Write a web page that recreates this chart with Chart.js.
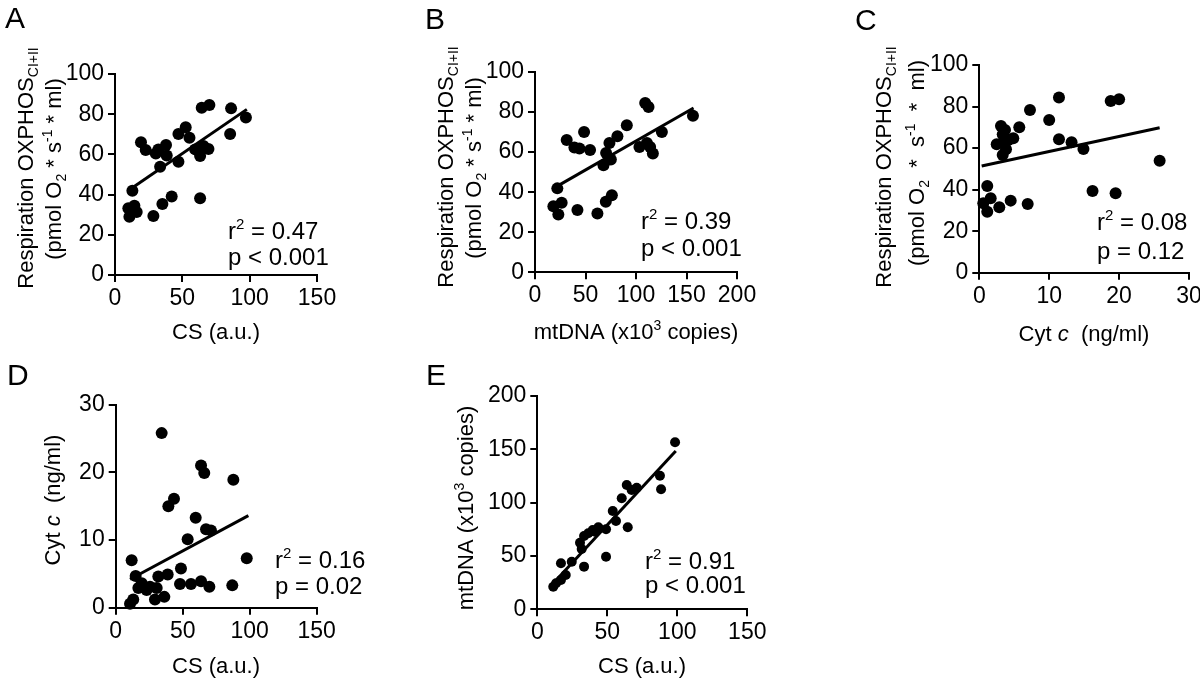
<!DOCTYPE html>
<html><head><meta charset="utf-8">
<script src="https://cdn.jsdelivr.net/npm/chart.js@4/dist/chart.umd.min.js"></script>
<style>
html,body{margin:0;padding:0;background:#fff;width:1200px;height:683px;overflow:hidden;}
canvas{position:absolute;}
</style></head><body>
<canvas id="cA"></canvas><canvas id="cB"></canvas><canvas id="cC"></canvas><canvas id="cD"></canvas><canvas id="cE"></canvas>
<script>
// ---------- DATA ----------
// Panel A: CS (a.u.) vs Respiration OXPHOS CI+II
const aX = [12.9, 9.9, 14.4, 16.1, 10.7, 28.5, 35.2, 42.1, 63.2, 19.3, 22.8, 30.3, 32.2, 37.9, 38.4, 33.5, 47.1, 47.1, 52.5, 55.3, 59.5, 63.2, 65.7, 69.4, 64.4, 70.1, 86.2, 85.5, 97.2];
const aY = [41.9, 33.2, 34.5, 31.3, 29.0, 29.4, 35.3, 39.0, 38.2, 66.0, 62.2, 60.5, 62.5, 64.7, 59.4, 53.9, 56.4, 70.1, 73.5, 68.3, 62.5, 59.2, 64.2, 62.7, 83.2, 84.6, 82.9, 70.1, 78.3];
const aFitX = [12.9, 97.9];
const aFitY = [43.4, 82.4];
const aXTicks = [0, 50, 100, 150];
const aYTicks = [0, 20, 40, 60, 80, 100];

// Panel B: mtDNA vs Respiration
const bX = [22.1, 18.2, 26.4, 23.1, 42.0, 61.8, 70.1, 76.1, 31.4, 39.0, 44.0, 48.6, 54.5, 67.8, 70.4, 75.1, 73.7, 81.6, 90.9, 103.4, 110.8, 114.0, 116.7, 109.1, 112.4, 125.6, 156.4];
const bY = [41.9, 33.0, 34.7, 28.9, 31.1, 29.4, 35.2, 38.5, 66.0, 62.3, 61.8, 70.1, 61.0, 53.5, 59.6, 56.3, 64.6, 67.9, 73.4, 62.6, 64.6, 62.6, 59.3, 84.5, 82.5, 70.1, 78.1];
const bFitX = [22.1, 157];
const bFitY = [43, 82];
const bXTicks = [0, 50, 100, 150, 200];
const bYTicks = [0, 20, 40, 60, 80, 100];

// Panel C: Cyt c vs Respiration
const cX = [0.57, 1.14, 1.63, 1.14, 2.86, 4.49, 6.92, 3.1, 2.49, 3.35, 3.53, 3.82, 3.35, 4.15, 4.86, 5.72, 7.25, 10.0, 11.4, 11.4, 13.2, 14.9, 16.2, 19.5, 18.8, 20.0, 25.8, 3.68];
const cY = [33.4, 41.7, 35.8, 29.4, 31.5, 34.7, 33.1, 70.6, 61.8, 66.6, 63.4, 59.4, 56.7, 63.9, 64.7, 70.0, 78.3, 73.5, 84.4, 64.2, 62.8, 59.6, 39.3, 38.2, 82.7, 83.5, 53.9, 68.7];
const cFitX = [0.34, 25.8];
const cFitY = [51.4, 69.8];
const cXTicks = [0, 10, 20, 30];
const cYTicks = [0, 20, 40, 60, 80, 100];

// Panel D: CS vs Cyt c
const dX = [34.3, 63.7, 66.1, 87.8, 43.5, 39.3, 59.7, 67.4, 71.1, 53.7, 97.8, 11.9, 14.9, 19.4, 31.8, 38.8, 48.7, 48.0, 56.2, 63.7, 69.9, 87.0, 16.9, 23.1, 30.6, 29.3, 36.3, 13.1, 10.7, 25.6];
const dY = [25.8, 21.0, 19.9, 18.9, 16.1, 15.0, 13.3, 11.6, 11.4, 10.1, 7.3, 7.0, 4.7, 3.6, 4.6, 4.9, 5.8, 3.5, 3.5, 3.9, 3.1, 3.3, 2.9, 2.6, 2.9, 1.2, 1.6, 1.2, 0.6, 3.1];
const dFitX = [10.7, 99];
const dFitY = [4.2, 13.6];
const dXTicks = [0, 50, 100, 150];
const dYTicks = [0, 10, 20, 30];

// Panel E: CS vs mtDNA
const eX = [98.4, 87.6, 88.4, 63.9, 71.0, 67.4, 60.3, 53.9, 56.2, 64.6, 49.1, 43.6, 39.6, 36.4, 33.4, 30.5, 31.7, 33.4, 49.1, 24.6, 16.9, 20.3, 16.9, 13.4, 11.4, 41.2];
const eY = [156.6, 125.3, 112.5, 116.5, 114.0, 111.9, 104.1, 92.2, 82.8, 76.9, 75.0, 76.9, 74.4, 71.3, 68.7, 62.4, 56.5, 40.0, 49.3, 44.6, 43.1, 32.2, 27.5, 24.4, 21.2, 72.8];
const eFitX = [11.4, 98.9];
const eFitY = [24.4, 148.4];
const eXTicks = [0, 50, 100, 150];
const eYTicks = [0, 50, 100, 150, 200];

const statsA = ['0.47', '< 0.001'];
const statsB = ['0.39', '< 0.001'];
const statsC = ['0.08', '= 0.12'];
const statsD = ['0.16', '= 0.02'];
const statsE = ['0.91', '< 0.001'];

// ---------- RENDERING ----------
const FONT = '"Liberation Sans", Arial, Helvetica, sans-serif';
const INK = '#000';
const TICK = 23, TITLE = 22, NOTE = 24, LETTER = 30;

function segFont(s, size) {
  const sz = (s.sub || s.sup) ? Math.round(size * 0.64) : size;
  return (s.italic ? 'italic ' : '') + sz + 'px ' + FONT;
}
function drawRich(ctx, segs, x, y, size, rot, align) {
  ctx.save();
  ctx.translate(x, y);
  if (rot) ctx.rotate(rot);
  ctx.fillStyle = INK; ctx.textBaseline = 'alphabetic'; ctx.textAlign = 'left';
  let w = 0;
  const ws = segs.map(s => { ctx.font = segFont(s, size); const m = ctx.measureText(s.t).width; w += m; return m; });
  let cx = align === 'left' ? 0 : -w / 2;
  const base = size * 0.36;
  segs.forEach((s, i) => {
    ctx.font = segFont(s, size);
    const dy = s.sub ? size * 0.22 : (s.sup ? -size * 0.42 : 0);
    ctx.fillText(s.t, cx, base + dy);
    cx += ws[i];
  });
  ctx.restore();
}

const respL1 = [{t: 'Respiration OXPHOS'}, {t: 'CI+II', sub: true}];
const respL2 = [{t: '(pmol O'}, {t: '2', sub: true}, {t: ' * s'}, {t: '-1', sup: true}, {t: ' * ml)'}];
const respL2c = [{t: '(pmol O'}, {t: '2', sub: true}, {t: '  *  s'}, {t: '-1', sup: true}, {t: '  *  ml)'}];
const csT = [{t: 'CS (a.u.)'}];
const mtT = [{t: 'mtDNA (x10'}, {t: '3', sup: true}, {t: ' copies)'}];
const cytT = [{t: 'Cyt '}, {t: 'c', italic: true}, {t: '  (ng/ml)'}];

function pts(xs, ys) { return xs.map((x, i) => ({x: x, y: ys[i]})); }

function makePanel(id, P) {
  const cv = document.getElementById(id);
  cv.width = P.cw; cv.height = P.ch;
  cv.style.left = P.cl + 'px'; cv.style.top = P.ct + 'px';
  cv.style.width = P.cw + 'px'; cv.style.height = P.ch + 'px';
  const YW = 60, XH = 40;
  const pad = {
    left: (P.al - P.cl) - YW,
    right: (P.cl + P.cw) - P.ar,
    top: P.at - P.ct,
    bottom: (P.ct + P.ch) - P.ab - XH
  };
  const axisCommon = {
    type: 'linear',
    grid: {display: true, drawOnChartArea: false, drawTicks: true, tickLength: 7, color: INK, lineWidth: 2, tickWidth: 2, tickColor: INK},
    border: {display: true, color: INK, width: 2},
  };
  const textPlugin = {
    id: 'panelText' + id,
    afterDraw(chart) {
      const ctx = chart.ctx;
      const ox = P.cl, oy = P.ct;
      ctx.save();
      ctx.fillStyle = INK; ctx.font = LETTER + 'px ' + FONT; ctx.textAlign = 'left'; ctx.textBaseline = 'middle';
      ctx.fillText(P.letter[0], P.letter[1] - ox, P.letter[2] - oy);
      ctx.restore();
      P.yTitles.forEach(t => drawRich(ctx, t.segs, t.x - ox, t.y - oy, TITLE, -Math.PI / 2, 'center'));
      drawRich(ctx, P.xTitle.segs, P.xTitle.x - ox, P.xTitle.y - oy, TITLE, 0, 'center');
      const n = P.note;
      drawRich(ctx, [{t: 'r'}, {t: '2', sup: true}, {t: ' = ' + n.s[0]}], n.x - ox, n.y1 - oy, NOTE, 0, 'left');
      drawRich(ctx, [{t: 'p ' + n.s[1]}], n.x - ox, n.y2 - oy, NOTE, 0, 'left');
    }
  };
  return new Chart(cv, {
    type: 'scatter',
    data: {
      datasets: [
        {type: 'scatter', data: pts(P.xs, P.ys), backgroundColor: INK, borderColor: INK, borderWidth: 0, pointRadius: P.r, clip: false, order: 2},
        {type: 'line', data: pts(P.fx, P.fy), borderColor: INK, borderWidth: 3, pointRadius: 0, fill: false, clip: false, order: 1}
      ]
    },
    options: {
      responsive: false, animation: false, devicePixelRatio: 1,
      layout: {padding: pad},
      plugins: {legend: {display: false}, tooltip: {enabled: false}},
      scales: {
        x: Object.assign({}, axisCommon, {
          min: P.xt[0], max: P.xt[P.xt.length - 1],
          afterBuildTicks: s => { s.ticks = P.xt.map(v => ({value: v})); },
          afterFit: s => { s.height = XH; s.paddingLeft = 0; s.paddingRight = 0; },
          ticks: {color: INK, font: {family: FONT, size: TICK}, padding: 3, maxRotation: 0, autoSkip: false}
        }),
        y: Object.assign({}, axisCommon, {
          min: P.yt[0], max: P.yt[P.yt.length - 1],
          afterBuildTicks: s => { s.ticks = P.yt.map(v => ({value: v})); },
          afterFit: s => { s.width = YW; s.paddingTop = 0; s.paddingBottom = 0; },
          ticks: {color: INK, font: {family: FONT, size: TICK}, padding: 4, autoSkip: false}
        })
      }
    },
    plugins: [textPlugin]
  });
}

makePanel('cA', {cl: 0, ct: 0, cw: 420, ch: 350, al: 115, ar: 317, at: 74, ab: 275,
  xs: aX, ys: aY, fx: aFitX, fy: aFitY, xt: aXTicks, yt: aYTicks, r: 6,
  letter: ['A', 5, 20],
  yTitles: [{segs: respL1, x: 25, y: 168}, {segs: respL2, x: 53, y: 169}],
  xTitle: {segs: csT, x: 216, y: 331},
  note: {s: statsA, x: 228, y1: 230, y2: 256}});

makePanel('cB', {cl: 420, ct: 0, cw: 420, ch: 350, al: 535, ar: 737, at: 72, ab: 272.3,
  xs: bX, ys: bY, fx: bFitX, fy: bFitY, xt: bXTicks, yt: bYTicks, r: 6,
  letter: ['B', 425, 21],
  yTitles: [{segs: respL1, x: 445, y: 167}, {segs: respL2, x: 473, y: 168}],
  xTitle: {segs: mtT, x: 636, y: 331},
  note: {s: statsB, x: 641, y1: 220, y2: 247}});

makePanel('cC', {cl: 840, ct: 0, cw: 360, ch: 350, al: 979.3, ar: 1189, at: 65, ab: 272.7,
  xs: cX, ys: cY, fx: cFitX, fy: cFitY, xt: cXTicks, yt: cYTicks, r: 6,
  letter: ['C', 855, 22],
  yTitles: [{segs: respL1, x: 883, y: 167}, {segs: respL2c, x: 916, y: 163}],
  xTitle: {segs: cytT, x: 1084, y: 333},
  note: {s: statsC, x: 1097, y1: 221, y2: 250}});

makePanel('cD', {cl: 0, ct: 350, cw: 420, ch: 333, al: 115.7, ar: 316.7, at: 404.7, ab: 607.7,
  xs: dX, ys: dY, fx: dFitX, fy: dFitY, xt: dXTicks, yt: dYTicks, r: 6,
  letter: ['D', 7, 377],
  yTitles: [{segs: cytT, x: 52, y: 500}],
  xTitle: {segs: csT, x: 216, y: 665},
  note: {s: statsD, x: 275, y1: 559, y2: 585}});

makePanel('cE', {cl: 420, ct: 350, cw: 420, ch: 333, al: 537.3, ar: 747.3, at: 396, ab: 609.3,
  xs: eX, ys: eY, fx: eFitX, fy: eFitY, xt: eXTicks, yt: eYTicks, r: 5,
  letter: ['E', 426, 377],
  yTitles: [{segs: mtT, x: 465, y: 508}],
  xTitle: {segs: csT, x: 642, y: 665},
  note: {s: statsE, x: 645, y1: 560, y2: 584}});
</script>
</body></html>
